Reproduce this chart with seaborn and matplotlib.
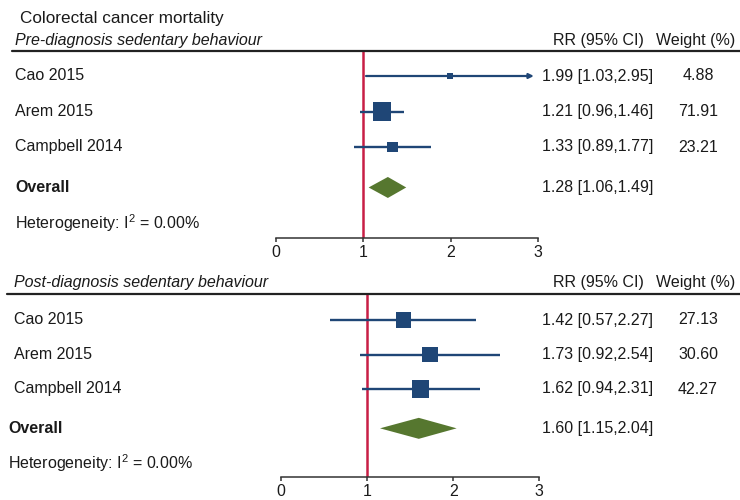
import numpy as np
import pandas as pd
import matplotlib
matplotlib.use("Agg")
import matplotlib.pyplot as plt
import seaborn as sns

# ---------------- data ----------------
title = "Colorectal cancer mortality"
studies = ["Cao 2015", "Arem 2015", "Campbell 2014"]
panel_titles = ["Pre-diagnosis sedentary behaviour", "Post-diagnosis sedentary behaviour"]
col_headers = ["RR (95% CI)", "Weight (%)"]

pre_rr = [1.99, 1.21, 1.33]
pre_lo = [1.03, 0.96, 0.89]
pre_hi = [2.95, 1.46, 1.77]
pre_w = [4.88, 71.91, 23.21]
pre_overall = [1.28, 1.06, 1.49]     # estimate, lower, upper
pre_arrow = [True, False, False]

post_rr = [1.42, 1.73, 1.62]
post_lo = [0.57, 0.92, 0.94]
post_hi = [2.27, 2.54, 2.31]
post_w = [27.13, 30.60, 42.27]
post_overall = [1.60, 1.15, 2.04]
post_arrow = [False, False, False]

heterogeneity = ["0.00%", "0.00%"]
xticks = [0, 1, 2, 3]

# ---------------- style ----------------
sns.set_theme(style="white")
plt.rcParams["font.family"] = ["Liberation Sans", "DejaVu Sans"]
plt.rcParams["mathtext.fontset"] = "custom"
plt.rcParams["mathtext.rm"] = "Liberation Sans"
plt.rcParams["mathtext.it"] = "Liberation Sans:italic"
plt.rcParams["mathtext.bf"] = "Liberation Sans:bold"

NAVY = "#1f4676"
GREEN = "#56772f"
RED = "#c81e45"
TXT = "#1a1a1a"
FS = 11.5

W, H = 740, 500
fig = plt.figure(figsize=(W / 100, H / 100), dpi=100)
fig.patch.set_facecolor("white")


def px(x, y):
    return x / W, 1 - y / H


fig.text(*px(20, 18), title, fontsize=12.3, color=TXT, va="center", ha="left")


def panel(rr, lo, hi, w, overall, arrow, het, ptitle, *, zero_px, unit_px,
          header_px, axis_px, row0_px, step_px, title_px_y, lab_x, ov_x,
          sizes, line_x0):
    n = len(studies)
    df = pd.DataFrame({"study": studies, "rr": rr, "lo": lo, "hi": hi,
                       "weight": w, "row": np.arange(n, dtype=float),
                       "arrow": arrow})
    ov_row = n + 0.14
    het_row = n + 1.15

    ax = fig.add_axes([0, 1 - axis_px / H, 1, (axis_px - header_px) / H])
    ax.set_facecolor("none")
    ax.set_xlim(-zero_px / unit_px, (W - zero_px) / unit_px)
    ax.set_ylim((axis_px - row0_px) / step_px, (header_px - row0_px) / step_px)

    # reference line at RR = 1
    ax.axvline(1, color=RED, lw=1.8, zorder=1)

    # confidence intervals
    plain = df[~df["arrow"]]
    ax.hlines(plain["row"], plain["lo"], plain["hi"], color=NAVY, lw=1.7, zorder=2)
    for _, r in df[df["arrow"]].iterrows():
        ax.annotate("", xy=(r["hi"], r["row"]), xytext=(r["lo"], r["row"]),
                    arrowprops=dict(arrowstyle="-|>", color=NAVY, lw=1.6,
                                    mutation_scale=7, shrinkA=0, shrinkB=0),
                    zorder=2)

    # weighted squares
    sns.scatterplot(data=df, x="rr", y="row", size="weight", sizes=sizes,
                    marker="s", color=NAVY, linewidth=0, legend=False,
                    ax=ax, zorder=3)

    # overall diamond
    est, olo, ohi = overall
    hh = 10.5 / step_px
    ax.fill([olo, est, ohi, est], [ov_row, ov_row - hh, ov_row, ov_row + hh],
            color=GREEN, lw=0, zorder=3)

    # axis styling
    for s in ["left", "right", "top"]:
        ax.spines[s].set_visible(False)
    ax.spines["bottom"].set_bounds(xticks[0], xticks[-1])
    ax.spines["bottom"].set_color("#333333")
    ax.spines["bottom"].set_linewidth(1.1)
    ax.set_xticks(xticks)
    ax.set_xticklabels([str(t) for t in xticks])
    ax.tick_params(axis="x", bottom=True, direction="out", length=3,
                   width=1.1, color="#333333", labelsize=FS, labelcolor=TXT, pad=2)
    ax.set_yticks([])
    ax.set_xlabel("")
    ax.set_ylabel("")

    # header underline
    ax.plot([line_x0 / W, 1], [1, 1], transform=ax.transAxes, color="#222222",
            lw=1.6, clip_on=False, zorder=4)

    # texts
    fig.text(*px(lab_x, title_px_y), ptitle, fontsize=FS, style="italic",
             color=TXT, va="center", ha="left")
    fig.text(*px(598, title_px_y), col_headers[0], fontsize=FS, color=TXT,
             va="center", ha="center")
    fig.text(*px(696, title_px_y), col_headers[1], fontsize=FS, color=TXT,
             va="center", ha="center")

    tr = ax.get_yaxis_transform()
    for _, r in df.iterrows():
        ax.text(lab_x / W, r["row"], r["study"], transform=tr, fontsize=FS,
                color=TXT, va="center", ha="left")
        ax.text(598 / W, r["row"], f"{r['rr']:.2f} [{r['lo']:.2f},{r['hi']:.2f}]",
                transform=tr, fontsize=FS, color=TXT, va="center", ha="center")
        ax.text(698 / W, r["row"], f"{r['weight']:.2f}", transform=tr,
                fontsize=FS, color=TXT, va="center", ha="center")
    ax.text(ov_x / W, ov_row, "Overall", transform=tr, fontsize=FS,
            fontweight="bold", color=TXT, va="center", ha="left")
    ax.text(598 / W, ov_row, f"{est:.2f} [{olo:.2f},{ohi:.2f}]", transform=tr,
            fontsize=FS, color=TXT, va="center", ha="center")
    ax.text(ov_x / W, het_row, "Heterogeneity: I$^{2}$ = " + het, transform=tr,
            fontsize=FS, color=TXT, va="center", ha="left")
    return ax


panel(pre_rr, pre_lo, pre_hi, pre_w, pre_overall, pre_arrow, heterogeneity[0],
      panel_titles[0], zero_px=276, unit_px=87.4, header_px=51, axis_px=238,
      row0_px=76, step_px=35.5, title_px_y=41, lab_x=15, ov_x=15,
      sizes=(23, 168), line_x0=12)

panel(post_rr, post_lo, post_hi, post_w, post_overall, post_arrow, heterogeneity[1],
      panel_titles[1], zero_px=281, unit_px=86.1, header_px=294, axis_px=477,
      row0_px=320, step_px=34.5, title_px_y=282, lab_x=14, ov_x=8,
      sizes=(117, 162), line_x0=7)

fig.savefig("out.png", dpi=100, facecolor="white")
